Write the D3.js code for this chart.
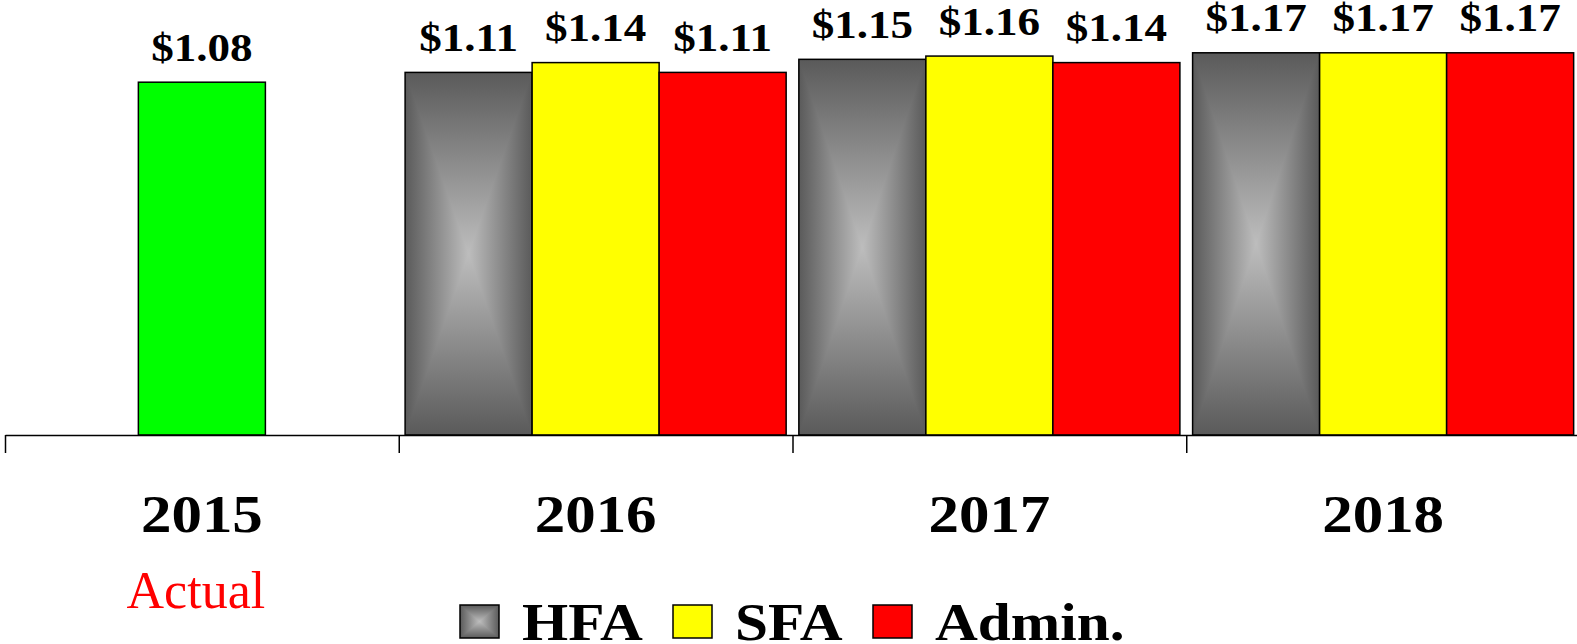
<!DOCTYPE html>
<meta charset="utf-8">
<style>
body { margin: 0; background: #fff; }
svg { display: block; }
.axis path, .axis line { stroke: #000; stroke-width: 1.5px; }
.bar { stroke: #000; stroke-width: 1.5px; }
</style>
<svg width="1577" height="644"></svg>
<script src="https://d3js.org/d3.v7.min.js"></script>
<script>

var years = ["2015", "2016", "2017", "2018"];
var series = ["HFA", "SFA", "Admin."];
var actual = [1.08, null, null, null];
var hfa = [null, 1.11, 1.15, 1.17];
var sfa = [null, 1.14, 1.16, 1.17];
var admin = [null, 1.11, 1.14, 1.17];
var colors = {"HFA": "url(#gray)", "SFA": "#ffff00", "Admin.": "#ff0000"};

var svg = d3.select("svg"),
    serif = "'Liberation Serif', 'Times New Roman', serif",
    baseline = 435;

var x0 = d3.scaleBand().domain(years).range([5, 1580]),
    x1 = d3.scaleBand().domain(series).range([0, x0.bandwidth()]).paddingOuter(0.05),
    y = d3.scaleLinear().domain([0, 1.2]).range([baseline, 43]),
    fmt = d3.format("$.2f");

// "from center" rectangular gradient: horizontal gradient + top/bottom triangles
var defs = svg.append("defs");
function grad(id, x2, y2, stops) {
  var g = defs.append("linearGradient").attr("id", id)
      .attr("x1", 0).attr("y1", 0).attr("x2", x2).attr("y2", y2);
  stops.forEach(function(s) {
    g.append("stop").attr("offset", s[0]).attr("stop-color", s[1]);
  });
}
var dark = "#5a5a5a", light = "#bdbdbd";
grad("gh", 1, 0, [[0, dark], [0.5, light], [1, dark]]);
grad("gt", 0, 1, [[0, dark], [1, light]]);
grad("gb", 0, 1, [[0, light], [1, dark]]);

function grayRect(sel, x, yy, w, h) {
  var cx = x + w / 2, cy = yy + h / 2;
  sel.append("rect").attr("x", x).attr("y", yy).attr("width", w).attr("height", h)
      .attr("fill", "url(#gh)");
  sel.append("path").attr("fill", "url(#gt)")
      .attr("d", "M" + x + "," + yy + "L" + (x + w) + "," + yy + "L" + cx + "," + cy + "Z");
  sel.append("path").attr("fill", "url(#gb)")
      .attr("d", "M" + x + "," + (yy + h) + "L" + (x + w) + "," + (yy + h) + "L" + cx + "," + cy + "Z");
  sel.append("rect").attr("class", "bar").attr("x", x).attr("y", yy).attr("width", w).attr("height", h)
      .attr("fill", "none").attr("stroke", "#222");
}

// build bar data
var bars = [];
years.forEach(function(yr, i) {
  if (actual[i] != null) bars.push({year: yr, key: "Actual", value: actual[i],
      x: x0(yr) + (x0.bandwidth() - x1.bandwidth()) / 2});
  [hfa, sfa, admin].forEach(function(arr, j) {
    if (arr[i] != null) bars.push({year: yr, key: series[j], value: arr[i],
        x: x0(yr) + x1(series[j])});
  });
});

var w = x1.bandwidth();

bars.forEach(function(d) {
  var g = svg.append("g");
  if (d.key === "HFA") {
    grayRect(g, d.x, y(d.value), w, baseline - y(d.value));
  } else {
    g.append("rect").attr("class", "bar")
        .attr("x", d.x).attr("y", y(d.value))
        .attr("width", w).attr("height", baseline - y(d.value))
        .attr("fill", d.key === "Actual" ? "#00ff00" : colors[d.key]);
  }
});

// value labels
svg.append("g").selectAll("text")
  .data(bars)
  .enter().append("text")
    .attr("transform", function(d) { return "translate(" + (d.x + w / 2) + "," + (y(d.value) - 21.5) + ") scale(1.1,1)"; })
    .attr("text-anchor", "middle")
    .style("font-family", serif)
    .style("font-weight", "bold")
    .style("font-size", "41px")
    .text(function(d) { return fmt(d.value); });

// axis line with boundary ticks
var xb = d3.scaleLinear().domain([0, years.length]).range(x0.range());
svg.append("g")
    .attr("class", "axis")
    .attr("transform", "translate(0," + baseline + ")")
    .call(d3.axisBottom(xb).tickValues(d3.range(years.length + 1)).tickSize(18).tickSizeOuter(0).tickFormat(""));

// year labels
var ya = svg.append("g")
    .attr("transform", "translate(0,532)")
    .call(d3.axisBottom(x0).tickSize(0).tickPadding(0));
ya.select(".domain").remove();
ya.selectAll("text")
    .attr("dy", null).attr("y", null)
    .attr("transform", "scale(1.15,1)")
    .attr("fill", "#000")
    .style("font-family", serif)
    .style("font-weight", "bold")
    .style("font-size", "53px");

svg.append("text")
    .attr("x", x0("2015") + x0.bandwidth() / 2 - 6)
    .attr("y", 608)
    .attr("text-anchor", "middle")
    .attr("fill", "#ff0000")
    .style("font-family", serif)
    .style("font-size", "52px")
    .text("Actual");

// legend
var legendX = [460, 673, 873];
series.forEach(function(s, i) {
  var g = svg.append("g");
  if (s === "HFA") {
    grayRect(g, legendX[i], 605, 39, 33);
  } else {
    g.append("rect").attr("class", "bar")
        .attr("x", legendX[i]).attr("y", 605).attr("width", 39).attr("height", 33)
        .attr("fill", colors[s]);
  }
  g.append("text")
      .attr("transform", "translate(" + (legendX[i] + 62) + ",640) scale(1.12,1)")
      .style("font-family", serif)
      .style("font-weight", "bold")
      .style("font-size", "53px")
      .text(s);
});

</script>
